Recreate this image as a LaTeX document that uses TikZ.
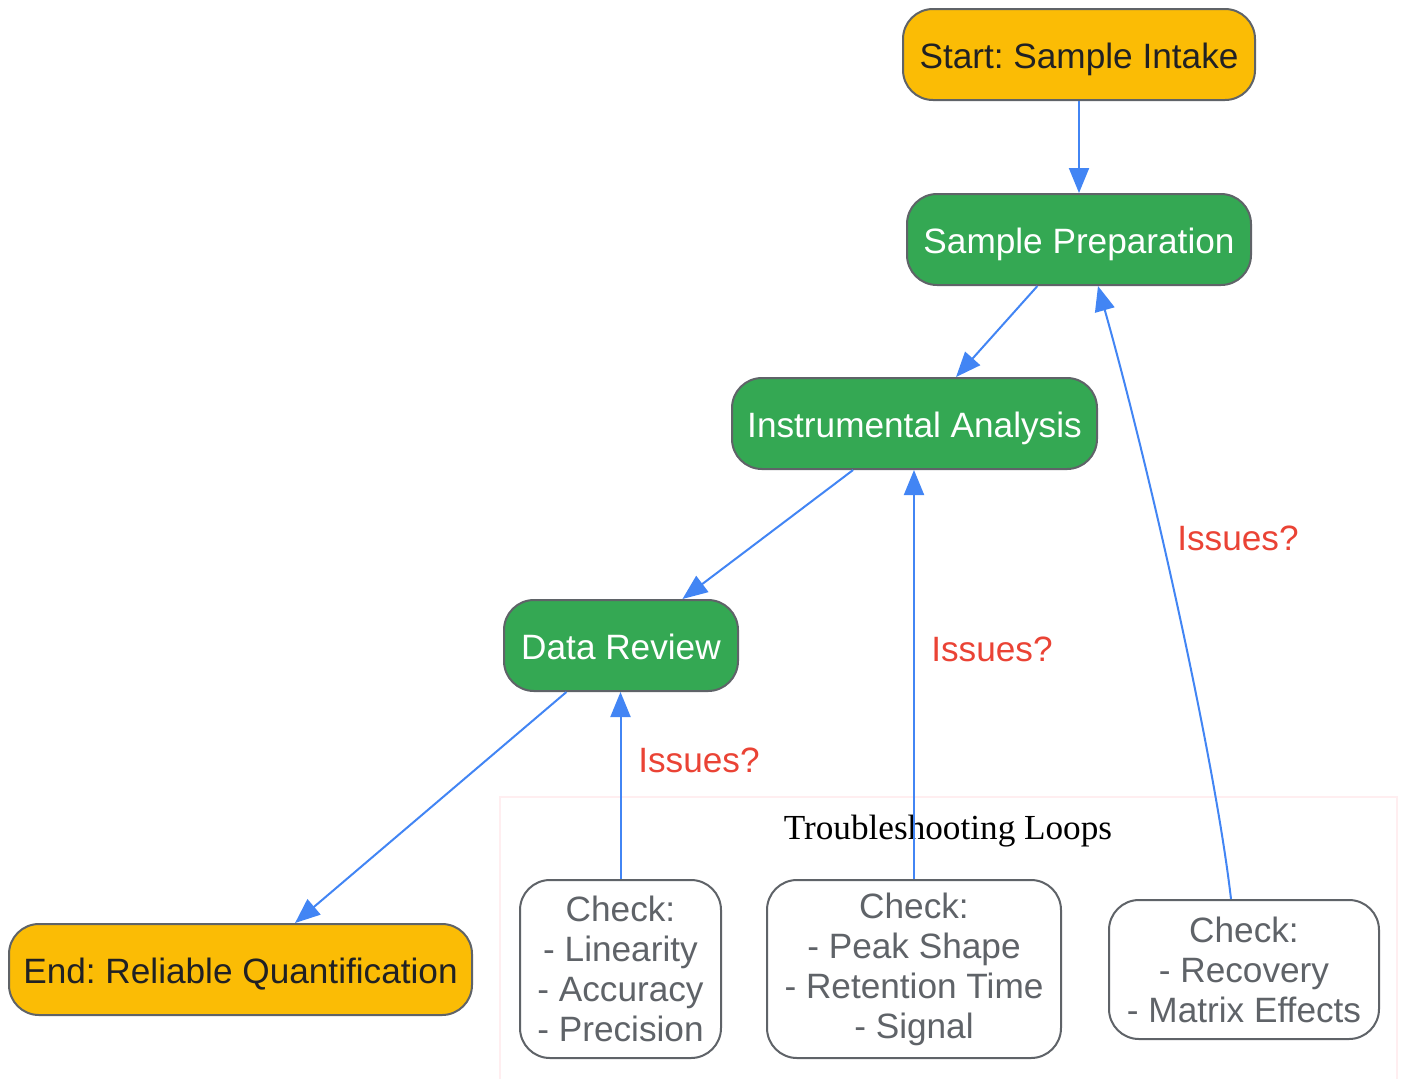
\documentclass[tikz,border=0pt]{standalone}
\usepackage{fontspec}
\setmainfont{Liberation Sans}
\newfontfamily\clusterfont{Liberation Serif}
\usetikzlibrary{arrows.meta,shapes}
\frenchspacing
\definecolor{gyellow}{HTML}{FBBC05}
\definecolor{ggreen}{HTML}{34A853}
\definecolor{gblue}{HTML}{4285F4}
\definecolor{gred}{HTML}{EA4335}
\definecolor{ggray}{HTML}{5F6368}
\definecolor{gdark}{HTML}{202124}
\definecolor{clusterline}{HTML}{FFEEF0}
\tikzstyle{box}=[draw=ggray,line width=1pt,rounded corners=15pt,align=center,inner sep=0pt,minimum height=45.5pt,font=\fontsize{17.6}{20}\selectfont]
\tikzstyle{terminal}=[box,fill=gyellow,text=gdark,text height=15.5pt,text depth=2pt]
\tikzstyle{stage}=[box,fill=ggreen,text=white,text height=15.5pt,text depth=2pt]
\tikzstyle{check}=[box,fill=white,text=ggray]
\tikzstyle{flow}=[draw=gblue,line width=1pt,-{Triangle[length=12.5pt,width=10pt]}]
\tikzstyle{issue}=[text=gred,font=\fontsize{17.6}{20}\selectfont]

\begin{document}
\begin{tikzpicture}[x=0.5pt,y=-0.5pt]
    \useasboundingbox (0,0) rectangle (1404,1078);
    % First the cluster frame
    \draw[clusterline,line width=1pt] (500,797) rectangle (1397,1090);
    \node[font=\clusterfont\fontsize{17.6}{20}\selectfont] (looptitle) at (948,831) {Troubleshooting Loops};

    % Main stages
    \node[terminal,minimum width=176pt] (start) at (1079,54.5) {Start: Sample Intake};
    \node[stage,minimum width=172pt] (prep) at (1079,239.5) {Sample Preparation};
    \node[stage,minimum width=182.5pt] (instr) at (914.5,423.5) {Instrumental Analysis};
    \node[stage,minimum width=117pt] (review) at (621,645.5) {Data Review};
    \node[terminal,minimum width=231.5pt] (end) at (240.5,969.5) {End: Reliable Quantification};

    % Check boxes
    \node[check,minimum width=100.5pt,minimum height=89pt] (chkreview) at (620.5,969) {Check:\\- Linearity\\- Accuracy\\- Precision};
    \node[check,minimum width=147pt,minimum height=89pt] (chkinstr) at (914,969) {Check:\\- Peak Shape\\- Retention Time\\- Signal};
    \node[check,minimum width=135pt,minimum height=69.5pt] (chkprep) at (1244,969.5) {Check:\\- Recovery\\- Matrix Effects};

    % Connect stages with edges
    \foreach \source/\dest in {start/prep, prep/instr, instr/review, review/end}
        \path[flow] (\source) -- (\dest);

    % Loops back
    \path[flow] (chkreview.north) -- (chkreview.north |- review.south);
    \path[flow] (chkinstr.north) -- (chkinstr.north |- instr.south);
    \path[flow] ([xshift=-6.5pt]chkprep.north) .. controls (1215,760) and (1150,470) .. ([xshift=9.5pt]prep.south);
    \node[issue] (issuereview) at (699,760) {Issues?};
    \node[issue] (issueinstr) at (992,649) {Issues?};
    \node[issue] (issueprep) at (1238,538) {Issues?};
\end{tikzpicture}
\end{document}
